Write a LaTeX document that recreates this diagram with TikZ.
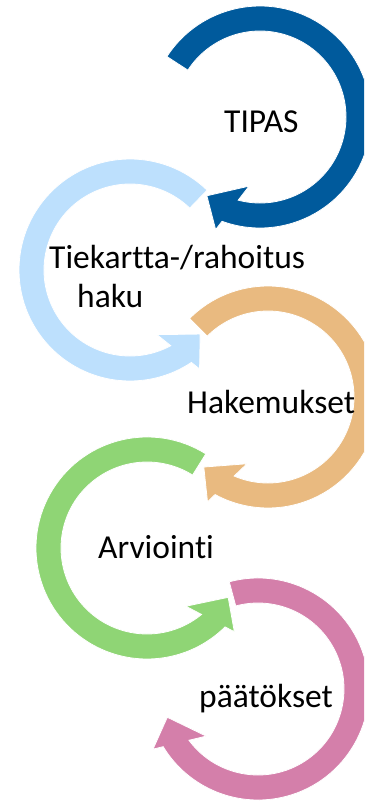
\documentclass[tikz,border=0pt]{standalone}
\usepackage{fontspec}
\setmainfont{Carlito}[Ligatures={NoCommon,NoContextual}]
\definecolor{cDark}{RGB}{0,90,156}
\definecolor{cLight}{RGB}{189,224,253}
\definecolor{cTan}{RGB}{233,186,128}
\definecolor{cGreen}{RGB}{143,213,117}
\definecolor{cPink}{RGB}{212,127,170}
% #1 center name, #2 colour, #3 tail angle, #4 tip angle, #5 direction (+1 ccw, -1 cw)
\newcommand\ringarrow[5]{%
  \pgfmathsetmacro\rOE{#4-14*(#5)}%
  \pgfmathsetmacro\rOC{#4-12.5*(#5)}%
  \pgfmathsetmacro\rIC{#4-25*(#5)}%
  \pgfmathsetmacro\rIE{#4-19.3*(#5)}%
  \fill[#2, ringshape]
    ([shift={(#3:111)}]#1) arc[start angle=#3, end angle=\rOE, radius=111]
    -- ([shift={(\rOC:121)}]#1)
    -- ([shift={(#4:95)}]#1)
    -- ([shift={(\rIC:70)}]#1)
    -- ([shift={(\rIE:86)}]#1)
    arc[start angle=\rIE, end angle=#3, radius=86] -- cycle;
}
\tikzset{
  ringshape/.style={draw=white, line width=0.8pt, line join=miter},
  lbl/.style={font=\fontsize{33.5}{36}\selectfont, text=black, inner sep=0pt, anchor=base west}
}
\begin{document}
\begin{tikzpicture}[x=1pt, y=1pt]
\useasboundingbox (0,0) rectangle (364,-802);
\clip (0,0) rectangle (364,-802);
\coordinate (c1) at (260,-117);
\coordinate (c2) at (130,-270);
\coordinate (c3) at (268,-397);
\coordinate (c4) at (147,-548);
\coordinate (c5) at (258,-689);
\ringarrow{c1}{cDark}{147}{-124}{-1}
\ringarrow{c2}{cLight}{46}{317.6}{1}
\ringarrow{c3}{cTan}{135}{-132.5}{-1}
\ringarrow{c4}{cGreen}{58}{328.7}{1}
\ringarrow{c5}{cPink}{105}{-162.7}{-1}
\node[lbl] (t1) at (224,-133) {TIPAS};
\node[lbl] (t2a) at (49,-268) {Tiekartta-/rahoitus};
\node[lbl] (t2b) at (77,-307) {haku};
\node[lbl] (t3) at (187,-413) {Hakemukset};
\node[lbl] (t4) at (98,-558) {Arviointi};
\node[lbl] (t5) at (199,-707) {päätökset};
\end{tikzpicture}
\end{document}
